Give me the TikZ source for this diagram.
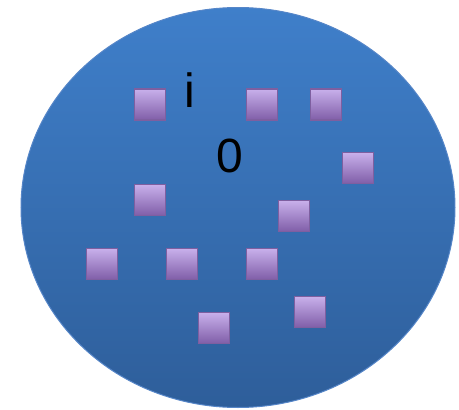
\documentclass[tikz,border=0pt]{standalone}
\usepackage{fontspec}
\setmainfont{Liberation Sans}
\begin{document}
\begin{tikzpicture}[x=1pt, y=-1pt,
		box/.style={rectangle, draw={rgb,255:red,126;green,95;blue,160}, line width=1.8pt, minimum size=31pt, inner sep=0pt, top color={rgb,255:red,200;green,176;blue,235}, bottom color={rgb,255:red,128;green,94;blue,168}},
		lbl/.style={text=black, inner sep=0pt, font=\fontsize{48}{48}\selectfont}]
			\useasboundingbox (0,0) rectangle (459,410);

			% Define the big ellipse
			\path[draw={rgb,255:red,86;green,134;blue,200}, line width=1pt, top color={rgb,255:red,63;green,127;blue,202}, bottom color={rgb,255:red,46;green,94;blue,154}] (238,207.5) ellipse [x radius=217pt, y radius=200pt];

			% Define the boxes with their coordinates
			\node[box] (s1) at (150,104.5) {};
			\node[box] (s2) at (262,104.5) {};
			\node[box] (s3) at (326,104.5) {};
			\node[box] (s4) at (358,168) {};
			\node[box] (s5) at (150,200) {};
			\node[box] (s6) at (294,216) {};
			\node[box] (s7) at (102,264) {};
			\node[box] (s8) at (182,264) {};
			\node[box] (s9) at (262,264) {};
			\node[box] (s10) at (310,312) {};
			\node[box] (s11) at (214,328) {};

			% Labels
			\node[lbl, anchor=base] (i) at (190,107) {i};
			\node[lbl, anchor=base] (zero) at (230,172) {0};

		\end{tikzpicture}
\end{document}
